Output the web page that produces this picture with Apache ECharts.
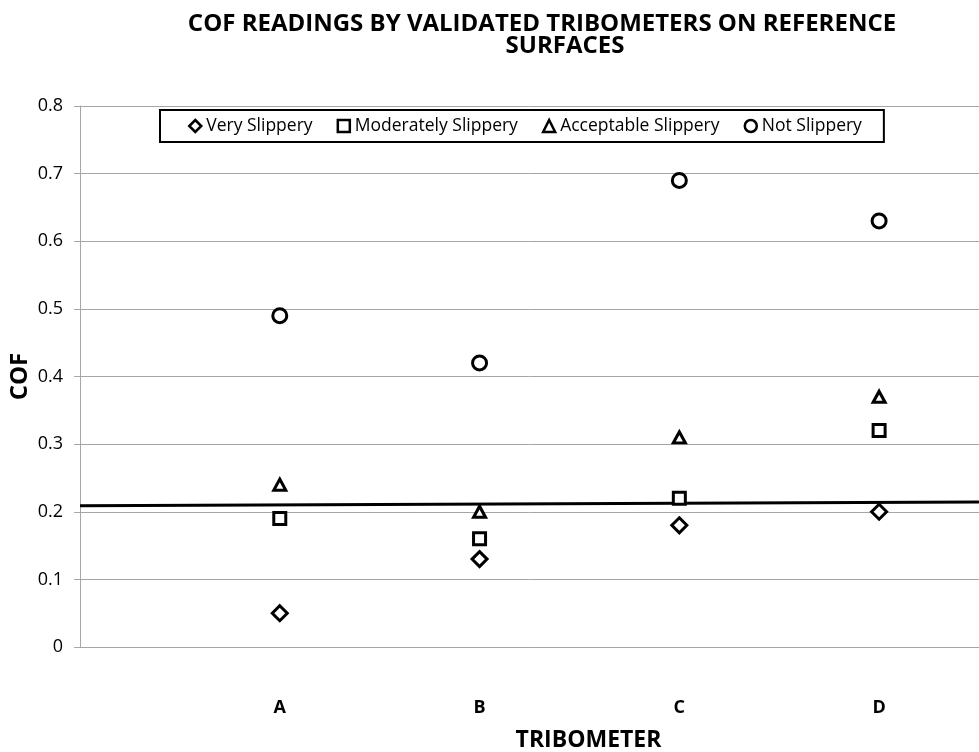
<!DOCTYPE html>
<html>
<head>
<meta charset="utf-8">
<script src="https://cdn.jsdelivr.net/npm/echarts@6/dist/echarts.min.js"></script>
<style>
  html, body { margin: 0; padding: 0; background: #fff; }
  #chart { width: 979px; height: 752px; }
</style>
</head>
<body>
<div id="chart"></div>
<script>
const tribometers = ['A', 'B', 'C', 'D']
const verySlippery = [0.05, 0.13, 0.18, 0.20]
const moderatelySlippery = [0.19, 0.16, 0.22, 0.32]
const acceptableSlippery = [0.24, 0.20, 0.31, 0.37]
const notSlippery = [0.49, 0.42, 0.69, 0.63]
// reference line across the plot: [x, cof] at both ends
const refLineX = [0, 4.5]
const refLineY = [0.209, 0.2145]

const font = '"Open Sans", sans-serif'

const toPoints = (values) => values.map((v, i) => [i + 1, v])

const markerSeries = (name, symbol, size, values) => ({
  name,
  type: 'scatter',
  symbol,
  symbolSize: size,
  itemStyle: { color: '#fff', borderColor: '#000', borderWidth: 3, opacity: 1 },
  data: toPoints(values),
  z: 5,
})

const titleStyle = { fontFamily: font, fontSize: 24, fontWeight: 'bold', color: '#000', lineHeight: 24 }

const chart = echarts.init(document.getElementById('chart'))

chart.setOption({
  backgroundColor: '#fff',
  animation: false,
  textStyle: { fontFamily: font },
  title: [
    {
      text: 'COF READINGS BY VALIDATED TRIBOMETERS ON REFERENCE',
      left: 542,
      top: 12,
      textAlign: 'center',
      padding: 0,
      textStyle: titleStyle,
    },
    {
      text: 'SURFACES',
      left: 565,
      top: 34,
      textAlign: 'center',
      padding: 0,
      textStyle: titleStyle,
    },
  ],
  legend: {
    left: 160,
    top: 110,
    padding: [7, 22, 7, 28],
    borderColor: '#000',
    borderWidth: 2,
    itemWidth: 12,
    itemHeight: 12,
    itemGap: 24,
    itemStyle: { borderWidth: 2.5, opacity: 1 },
    data: ['Very Slippery', 'Moderately Slippery', 'Acceptable Slippery', 'Not Slippery'],
    textStyle: { fontFamily: font, fontSize: 17.5, color: '#000' },
  },
  grid: { left: 80, right: 0, top: 106, bottom: 105, outerBoundsMode: 'none' },
  xAxis: {
    type: 'value',
    min: 0,
    max: 4.5,
    interval: 1,
    name: 'TRIBOMETER',
    nameLocation: 'middle',
    nameGap: 82,
    nameMoveOverlap: false,
    nameTextStyle: { fontFamily: font, fontSize: 23, fontWeight: 'bold', color: '#000', padding: [0, 0, 0, 118] },
    axisLine: { show: true, lineStyle: { color: '#a6a6a6', width: 1 } },
    axisTick: { show: false },
    splitLine: { show: false },
    axisLabel: {
      margin: 52,
      fontSize: 18,
      fontWeight: 'bold',
      color: '#000',
      showMaxLabel: false,
      formatter: (v) => tribometers[v - 1] || '',
    },
  },
  yAxis: {
    type: 'value',
    min: 0,
    max: 0.8,
    interval: 0.1,
    name: 'COF',
    nameLocation: 'middle',
    nameGap: 48,
    nameMoveOverlap: false,
    nameTextStyle: { fontFamily: font, fontSize: 24, fontWeight: 'bold', color: '#000' },
    axisLine: { show: true, lineStyle: { color: '#a6a6a6', width: 1 } },
    axisTick: { show: true, length: 6, lineStyle: { color: '#a6a6a6' } },
    splitLine: { show: true, lineStyle: { color: '#a6a6a6', width: 1 } },
    axisLabel: {
      margin: 17,
      fontSize: 18,
      color: '#000',
      formatter: (v) => (Math.round(v * 10) / 10).toString(),
    },
  },
  series: [
    markerSeries('Very Slippery', 'diamond', [15, 15], verySlippery),
    markerSeries('Moderately Slippery', 'rect', [12, 12], moderatelySlippery),
    markerSeries('Acceptable Slippery', 'triangle', [12, 11], acceptableSlippery),
    markerSeries('Not Slippery', 'circle', 14, notSlippery),
    {
      name: 'reference',
      type: 'line',
      symbol: 'none',
      silent: true,
      lineStyle: { color: '#000', width: 3 },
      data: refLineX.map((x, i) => [x, refLineY[i]]),
      z: 4,
    },
  ],
})
</script>
</body>
</html>
